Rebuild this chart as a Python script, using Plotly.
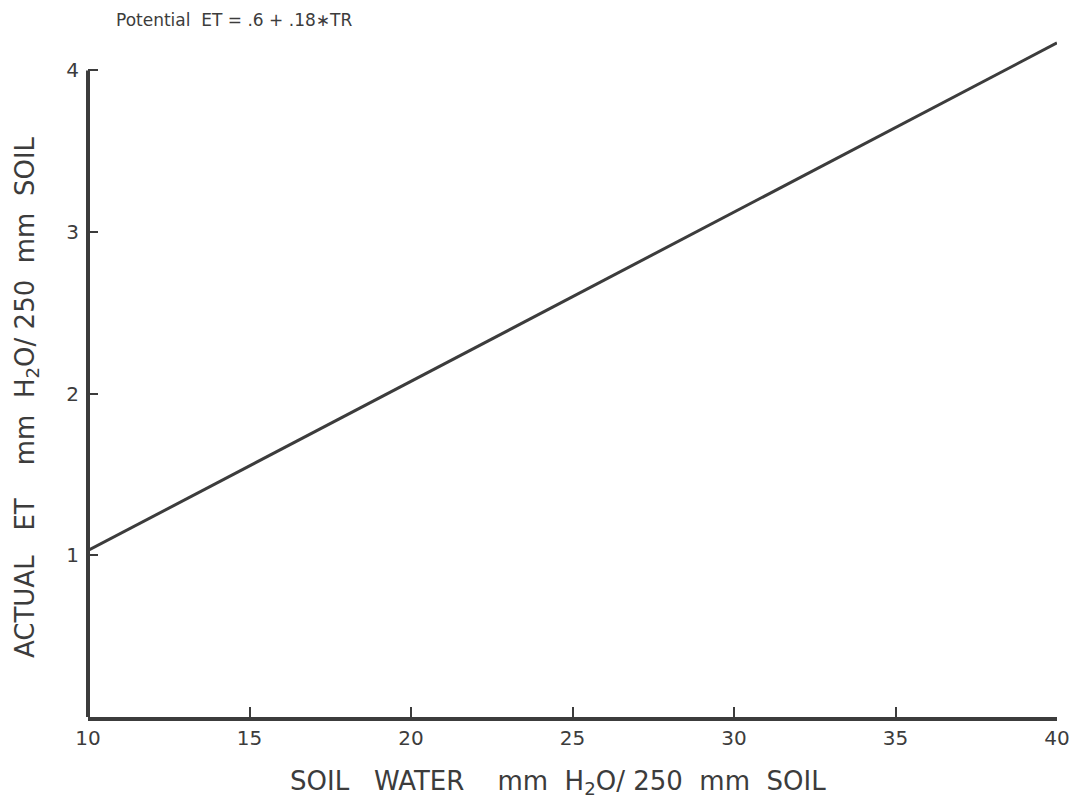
import plotly.graph_objects as go

# Soil water (mm H2O / 250 mm soil) and the resulting actual ET
soil_water = [10, 40]
actual_et = [1.03, 4.17]

x_ticks = [10, 15, 20, 25, 30, 35, 40]
y_ticks = [1, 2, 3, 4]

INK = "#3c3c3c"
FONT = "DejaVu Sans"

fig = go.Figure()
fig.add_trace(go.Scatter(
    x=soil_water, y=actual_et, mode="lines",
    line=dict(color=INK, width=3), showlegend=False,
))

fig.update_xaxes(
    range=[10, 40], tickvals=x_ticks, ticktext=[str(v) for v in x_ticks],
    ticks="inside", ticklen=10, tickwidth=2, tickcolor=INK,
    showline=True, linewidth=4, linecolor=INK, showgrid=False, zeroline=False,
    tickfont=dict(family=FONT, size=20, color=INK),
)
fig.update_yaxes(
    range=[0, 4.25], tickvals=y_ticks, ticktext=[str(v) for v in y_ticks],
    ticks="inside", ticklen=10, tickwidth=2, tickcolor=INK,
    showline=False, showgrid=False, zeroline=False, ticklabelstandoff=8,
    tickfont=dict(family=FONT, size=20, color=INK),
)

# Left axis spine stops at the top tick
fig.add_shape(type="line", xref="paper", yref="y", x0=0, x1=0, y0=0, y1=y_ticks[-1],
              line=dict(color=INK, width=4), layer="above")

fig.add_annotation(
    text="SOIL   WATER    mm  H<sub>2</sub>O/ 250  mm  SOIL",
    xref="paper", yref="paper", x=0.485, y=0, yshift=-84,
    showarrow=False, font=dict(family=FONT, size=26, color=INK),
)
fig.add_annotation(
    text="ACTUAL   ET    mm  H<sub>2</sub>O/ 250  mm  SOIL",
    xref="paper", yref="paper", x=0, xshift=-80, y=0.465, yanchor="middle",
    textangle=-90, showarrow=False, font=dict(family=FONT, size=26, color=INK),
)
fig.add_annotation(
    text="Potential  ET = .6 + .18\u2217TR",
    xref="paper", yref="paper", x=0, xshift=26, y=1, yshift=22,
    xanchor="left", showarrow=False, font=dict(family=FONT, size=17, color=INK),
)

fig.update_layout(
    width=1083, height=809,
    margin=dict(l=88, r=26, t=30, b=92),
    paper_bgcolor="white", plot_bgcolor="white",
)

fig.write_html("out.html")
